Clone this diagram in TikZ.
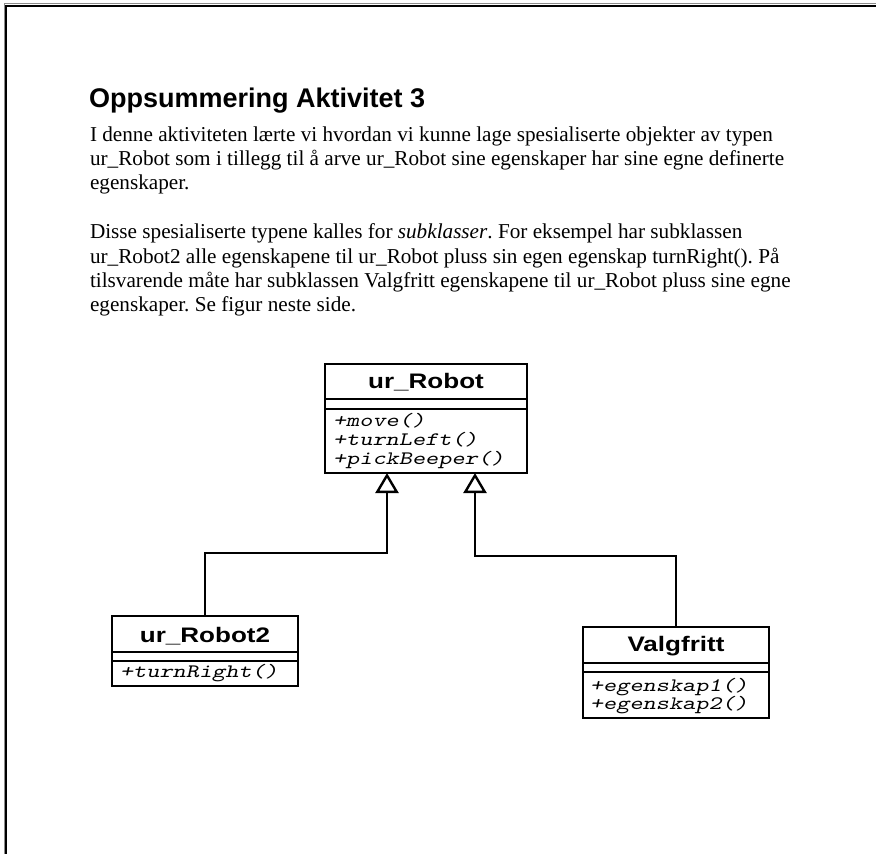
\documentclass[tikz,border=0pt]{standalone}
\usepackage{fontspec}
\setmainfont{Liberation Serif}
\newfontfamily\titlefont{Liberation Sans}
\newfontfamily\namefont{Liberation Sans}[FakeStretch=1.24]
\newfontfamily\umlmono{lmmonoslant10-regular.otf}[FakeStretch=1.32]
\usetikzlibrary{arrows.meta,calc}
\begin{document}
\frenchspacing
\begin{tikzpicture}[x=1pt,y=-1pt,
  body/.style={anchor=base west, inner sep=0, outer sep=0, font=\frenchspacing\fontsize{21.2}{24.4}\selectfont},
  umlbox/.style={draw, line width=2.4pt, fill=white, inner sep=0, outer sep=0, anchor=north west},
  umlline/.style={line width=2.4pt},
  cname/.style={anchor=base, inner sep=0, outer sep=0, font=\namefont\bfseries\fontsize{21}{24}\selectfont},
  cop/.style={anchor=base west, inner sep=0, outer sep=0, font=\umlmono\fontsize{19}{21}\selectfont},
  gen/.style={line width=2.4pt, -{Triangle[open, length=20pt, width=23pt]}}]
\useasboundingbox (0,0) rectangle (876,854);
\fill[white] (0,0) rectangle (876,854);
% page frame
\draw[black!45, line width=1pt] (4.2,854) -- (4.2,3.5) -- (876,3.5);
\draw[line width=2pt] (6.2,854) -- (6.2,5.5) -- (876,5.5);
% text
\node[anchor=base west, inner sep=0, font=\titlefont\bfseries\fontsize{27}{33}\selectfont] (title) at (89,107) {Oppsummering Aktivitet 3};
\node[body] (l1) at (90,141) {I denne aktiviteten lærte vi hvordan vi kunne lage spesialiserte objekter av typen};
\node[body] (l2) at (90,165.4) {ur\_Robot som i tillegg til å arve ur\_Robot sine egenskaper har sine egne definerte};
\node[body] (l3) at (90,189.8) {egenskaper.};
\node[body] (l4) at (90,238.6) {Disse spesialiserte typene kalles for \textit{subklasser}. For eksempel har subklassen};
\node[body] (l5) at (90,263) {ur\_Robot2 alle egenskapene til ur\_Robot pluss sin egen egenskap turnRight(). På};
\node[body] (l6) at (90,287.4) {tilsvarende måte har subklassen Valgfritt egenskapene til ur\_Robot pluss sine egne};
\node[body] (l7) at (90,311.8) {egenskaper. Se figur neste side.};
% class ur_Robot
\node[umlbox, minimum width=202pt, minimum height=109pt] (robot) at (325,364) {};
\draw[umlline] ([yshift=-35pt]robot.north west) -- ([yshift=-35pt]robot.north east);
\draw[umlline] ([yshift=-45pt]robot.north west) -- ([yshift=-45pt]robot.north east);
\node[cname] (robotname) at (426,388) {ur\_Robot};
\node[cop] (robotop1) at (333,426) {+move()};
\node[cop] (robotop2) at (333,445) {+turnLeft()};
\node[cop] (robotop3) at (333,464) {+pickBeeper()};
% class ur_Robot2
\node[umlbox, minimum width=186pt, minimum height=70pt] (robot2) at (112,616) {};
\draw[umlline] ([yshift=-36pt]robot2.north west) -- ([yshift=-36pt]robot2.north east);
\draw[umlline] ([yshift=-45pt]robot2.north west) -- ([yshift=-45pt]robot2.north east);
\node[cname] (robot2name) at (205,642) {ur\_Robot2};
\node[cop] (robot2op1) at (120,677) {+turnRight()};
% class Valgfritt
\node[umlbox, minimum width=186pt, minimum height=91pt] (valg) at (583,627) {};
\draw[umlline] ([yshift=-36pt]valg.north west) -- ([yshift=-36pt]valg.north east);
\draw[umlline] ([yshift=-45pt]valg.north west) -- ([yshift=-45pt]valg.north east);
\node[cname] (valgname) at (676,651) {Valgfritt};
\node[cop] (valgop1) at (590,691) {+egenskap1()};
\node[cop] (valgop2) at (590,709) {+egenskap2()};
% generalisation connectors
\coordinate (aL) at ($(robot.south west)+(62,0)$);
\coordinate (aR) at ($(robot.south west)+(150,0)$);
\coordinate (jL) at (387,553);
\coordinate (jR) at (475,556);
\draw[gen] (robot2.north) |- (jL) -- (aL);
\draw[gen] (valg.north) |- (jR) -- (aR);
\end{tikzpicture}
\end{document}
